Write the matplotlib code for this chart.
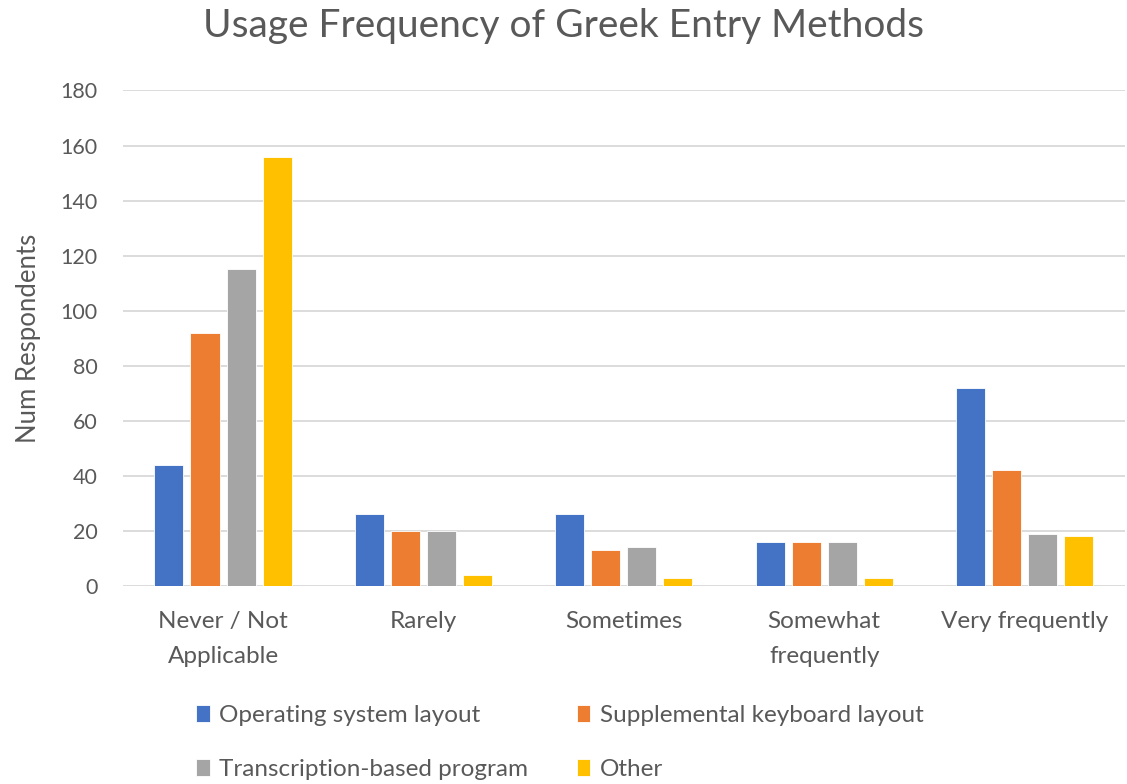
import numpy as np
import matplotlib.pyplot as plt

categories = ["Never / Not\nApplicable", "Rarely", "Sometimes",
              "Somewhat\nfrequently", "Very frequently"]
series_names = ["Operating system layout", "Supplemental keyboard layout",
                "Transcription-based program", "Other"]
os_layout = [44, 26, 26, 16, 72]
supplemental = [92, 20, 13, 16, 42]
transcription = [115, 20, 14, 16, 19]
other = [156, 4, 3, 3, 18]
y_ticks = list(range(0, 181, 20))

colors = ["#4472C4", "#ED7D31", "#A5A5A5", "#FFC000"]
text_gray = "#595959"
grid_gray = "#D9D9D9"

plt.rcParams['font.family'] = ['Lato', 'DejaVu Sans']

fig = plt.figure(figsize=(11.27, 7.84), dpi=100)
ax = fig.add_axes([0.109, 0.2526, 0.889, 0.632])

x = np.arange(len(categories))
width = 0.145
step = 0.18
all_series = [os_layout, supplemental, transcription, other]
bars = []
for i, (vals, name, c) in enumerate(zip(all_series, series_names, colors)):
    offset = (i - 1.5) * step
    b = ax.bar(x + offset, vals, width, color=c, label=name, zorder=3,
               edgecolor="white", linewidth=0.6)
    bars.append(b)

ax.set_xlim(-0.5, len(categories) - 0.5)
ax.set_ylim(0, 180)
ax.set_yticks(y_ticks)
ax.set_xticks(x)
ax.set_xticklabels(categories, fontsize=17.5, color=text_gray,
                   linespacing=1.8)
ax.tick_params(axis='y', labelsize=15.5, labelcolor=text_gray, length=0,
               pad=18)
ax.tick_params(axis='x', length=0, pad=18)
ax.grid(axis='y', color=grid_gray, linewidth=1.3, zorder=0)
for s in ax.spines.values():
    s.set_visible(False)

ax.set_ylabel("Num Respondents", fontsize=18.5, color=text_gray, labelpad=14)
fig.suptitle("Usage Frequency of Greek Entry Methods", fontsize=28,
             color=text_gray, y=0.99)

# legend fills column-first, so order entries to read row by row
order = [0, 2, 1, 3]
fig.legend([bars[i] for i in order], [series_names[i] for i in order],
           loc="center", bbox_to_anchor=(0.497, 0.053), ncol=2,
           frameon=False, fontsize=17.5, labelcolor=text_gray,
           handlelength=0.55, handleheight=0.7, handletextpad=0.4,
           columnspacing=2.0, labelspacing=1.35)

fig.savefig("out.png", dpi=100)
